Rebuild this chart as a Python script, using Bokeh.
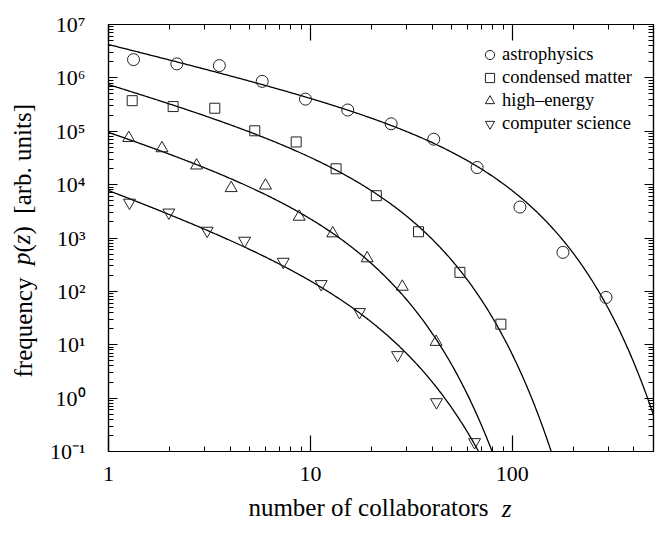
import numpy as np
from bokeh.plotting import figure
from bokeh.models import (LogAxis, LogTicker, FixedTicker, Legend, LegendItem,
                          PrintfTickFormatter, CustomJSTickFormatter)
from bokeh.embed import file_html
from bokeh.resources import INLINE

# ---------------- data ----------------
astro_z = [1.33, 2.18, 3.54, 5.77, 9.45, 15.3, 25.1, 40.8, 66.9, 109, 178, 291]
astro_p = [2.2e6, 1.83e6, 1.7e6, 8.6e5, 4.0e5, 2.5e5, 1.38e5, 7.1e4, 2.09e4, 3.8e3, 538, 77]

cond_z = [1.31, 2.09, 3.36, 5.3, 8.5, 13.4, 21.2, 34.3, 55, 87.7]
cond_p = [3.74e5, 2.9e5, 2.7e5, 1.02e5, 6.3e4, 1.98e4, 6.2e3, 1.31e3, 227, 24.3]

hep_z = [1.26, 1.84, 2.73, 4.05, 5.99, 8.8, 12.9, 19.1, 28.5, 41.9]
hep_p = [7.45e4, 4.8e4, 2.28e4, 8.6e3, 9.6e3, 2.5e3, 1.22e3, 416, 122, 11.3]

cs_z = [1.27, 1.99, 3.08, 4.72, 7.33, 11.3, 17.5, 27.0, 42.1, 65]
cs_p = [4.6e3, 3.0e3, 1.37e3, 890, 359, 137, 41, 6.4, 0.84, 0.15]

# fitted curves p(z) = A z^-tau exp(-z/zc), parameters
fit_amp = [4.3e6, 8.0e5, 1.06e5, 8.4e3]
fit_tau = [0.93, 1.106, 1.195, 1.376]
fit_zc = [48.9, 15.1, 9.18, 12.3]

series_names = ["astrophysics", "condensed matter", "high\u2013energy", "computer science"]
x_tick_labels = {1: "1", 10: "10", 100: "100"}
y_tick_labels = {-1: "10\u207b\u00b9", 0: "10\u2070", 1: "10\u00b9", 2: "10\u00b2", 3: "10\u00b3",
                 4: "10\u2074", 5: "10\u2075", 6: "10\u2076", 7: "10\u2077"}
x_title = ["number of collaborators", "z"]
y_title = ["frequency", "p", "(", "z", ")", "[arb. units]"]

# ---------------- layout constants ----------------
FONT = "Liberation Serif"
FL, FR, FT, FB = 108, 653, 24, 451
XMAX, YMIN, YMAX = 500.0, 0.1, 1e7

def xdata(px):
    return 10 ** ((px - FL) / (FR - FL) * np.log10(XMAX))

def ydata(py):
    return 10 ** (np.log10(YMAX) - (py - FT) / (FB - FT) * np.log10(YMAX / YMIN))

p = figure(x_axis_type="log", y_axis_type="log",
           x_range=(1, XMAX), y_range=(YMIN, YMAX),
           frame_width=FR - FL, frame_height=FB - FT,
           min_border_left=FL, min_border_top=FT, min_border_right=655 - FR, min_border_bottom=80,
           output_backend="svg", toolbar_location=None,
           background_fill_color="white", border_fill_color="white")
p.grid.visible = False
p.outline_line_color = "black"
p.outline_line_width = 1.2

def style_axis(ax, major_in, minor_in):
    ax.major_tick_in = major_in
    ax.major_tick_out = 0
    ax.minor_tick_in = minor_in
    ax.minor_tick_out = 0
    ax.axis_line_color = "black"
    ax.axis_line_width = 1.2
    ax.major_tick_line_color = "black"
    ax.minor_tick_line_color = "black"
    ax.major_tick_line_width = 1.2
    ax.minor_tick_line_width = 1

def text_axis(ax, ticks, labels, size, style, standoff, orientation="horizontal"):
    ax.ticker = FixedTicker(ticks=list(ticks), minor_ticks=[])
    ax.major_label_overrides = {t: l for t, l in zip(ticks, labels)}
    ax.axis_line_color = None
    ax.major_tick_line_color = None
    ax.minor_tick_line_color = None
    ax.major_tick_in = 0
    ax.major_tick_out = 0
    ax.major_label_text_font = FONT
    ax.major_label_text_font_size = size
    ax.major_label_text_font_style = style
    ax.major_label_text_color = "black"
    ax.major_label_standoff = standoff
    ax.major_label_orientation = orientation

xax = p.xaxis[0]
xax.ticker = LogTicker(num_minor_ticks=10)
xax.formatter = PrintfTickFormatter(format="%d")
xax.major_label_overrides = x_tick_labels
xax.major_label_text_font = FONT
xax.major_label_text_font_size = "22px"
xax.major_label_text_color = "black"
xax.major_label_standoff = 15
style_axis(xax, 16, 5)

yax = p.yaxis[0]
yax.ticker = LogTicker(num_minor_ticks=10)
js_labels = "{" + ",".join(f'"{k}":"{v}"' for k, v in y_tick_labels.items()) + "}"
yax.formatter = CustomJSTickFormatter(
    code=f"const L = {js_labels}; const e = Math.round(Math.log10(tick)); return L[String(e)] ?? '';")
yax.major_label_text_font = FONT
yax.major_label_text_font_size = "22px"
yax.major_label_text_color = "black"
yax.major_label_standoff = 23
style_axis(yax, 9, 5)

top = LogAxis(ticker=LogTicker(num_minor_ticks=10),
              formatter=CustomJSTickFormatter(code="return ''"), major_label_standoff=0)
style_axis(top, 16, 5)
p.add_layout(top, "above")
right = LogAxis(ticker=LogTicker(num_minor_ticks=10),
                formatter=CustomJSTickFormatter(code="return ''"), major_label_standoff=0)
style_axis(right, 9, 5)
p.add_layout(right, "right")

# axis titles drawn as label-only axes (regular pieces, then italic pieces overlapped)
TS = "25px"
xt_reg = LogAxis()
text_axis(xt_reg, [xdata(368)], [x_title[0]], TS, "normal", 10)
p.add_layout(xt_reg, "below")
xt_it = LogAxis()
text_axis(xt_it, [xdata(506)], [x_title[1]], TS, "italic", -29)
p.add_layout(xt_it, "below")

yt_reg = LogAxis()
text_axis(yt_reg, [ydata(327), ydata(247.8), ydata(229.8), ydata(158.3)],
          [y_title[0], y_title[2], y_title[4], y_title[5]], TS, "normal", 10, "parallel")
p.add_layout(yt_reg, "left")
yt_it = LogAxis()
text_axis(yt_it, [ydata(258.2), ydata(238.8)], [y_title[1], y_title[3]], TS, "italic", -29, "parallel")
p.add_layout(yt_it, "left")

# ---------------- curves ----------------
zgrid = np.logspace(0, np.log10(XMAX), 500)
for A, tau, zc in zip(fit_amp, fit_tau, fit_zc):
    pz = A * zgrid ** (-tau) * np.exp(-zgrid / zc)
    p.line(zgrid, pz, line_color="black", line_width=1.3)

# ---------------- markers ----------------
mk = dict(fill_color=None, line_color="#222222", line_width=1)
r1 = p.scatter(astro_z, astro_p, marker="circle", size=12, **mk)
r2 = p.scatter(cond_z, cond_p, marker="square", size=10, **mk)
r3 = p.scatter(hep_z, hep_p, marker="triangle", size=12, **mk)
r4 = p.scatter(cs_z, cs_p, marker="inverted_triangle", size=12, **mk)

legend = Legend(items=[LegendItem(label=n, renderers=[r]) for n, r in
                       zip(series_names, [r1, r2, r3, r4])],
                location=(369, 316), orientation="vertical",
                padding=0, margin=0, spacing=0,
                glyph_width=25, glyph_height=23, label_height=23, label_standoff=0,
                label_text_font=FONT, label_text_font_size="18.5px", label_text_color="black",
                border_line_color=None, background_fill_alpha=0)
p.add_layout(legend, "center")

open("out.html", "w").write(file_html(p, INLINE))
